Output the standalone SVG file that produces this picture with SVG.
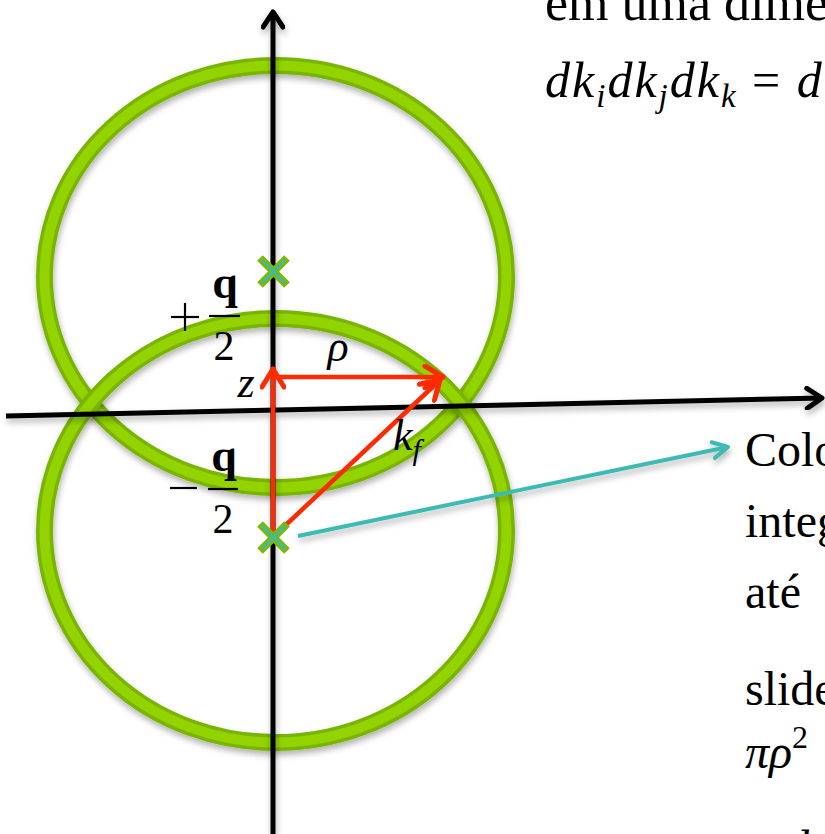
<svg xmlns="http://www.w3.org/2000/svg" width="825" height="834" viewBox="0 0 825 834">
<defs>
<filter id="sh" filterUnits="userSpaceOnUse" x="0" y="0" width="825" height="834">
<feDropShadow dx="1" dy="4" stdDeviation="3" flood-color="#000" flood-opacity="0.3"/>
</filter>
<marker id="blk" viewBox="0 0 24 24" refX="20" refY="12" markerWidth="24" markerHeight="24" markerUnits="userSpaceOnUse" orient="auto">
<path d="M5,2 L20,12 L5,22" fill="none" stroke="#000" stroke-width="5" stroke-linecap="round" stroke-linejoin="round"/>
</marker>
<marker id="red" viewBox="0 0 26 26" refX="23" refY="13" markerWidth="26" markerHeight="26" markerUnits="userSpaceOnUse" orient="auto">
<path d="M5,2 L23,13 L5,24" fill="none" stroke="#ff2a00" stroke-width="5" stroke-linecap="round" stroke-linejoin="round"/>
</marker>
<marker id="teal" viewBox="0 0 24 24" refX="21" refY="12" markerWidth="24" markerHeight="24" markerUnits="userSpaceOnUse" orient="auto">
<path d="M6,4 L21,12 L6,20" fill="none" stroke="#3cbab2" stroke-width="4" stroke-linecap="round" stroke-linejoin="round"/>
</marker>
</defs>
<style>
.ring1{fill:none;stroke:#78b400;stroke-width:17}
.ring2{fill:none;stroke:#92d300;stroke-width:10}
.axis{stroke:#000;stroke-width:5;fill:none}
.ra{stroke:#ff2a00;stroke-width:4.5;fill:none;stroke-linecap:round}
.ta{stroke:#3cbab2;stroke-width:4;fill:none}
.xg{stroke:#7fb800;stroke-width:8;stroke-linecap:butt}
.xt{stroke:#3cbab2;stroke-width:2.5}
.t{font-family:"Liberation Serif","DejaVu Serif",serif;fill:#000}
.m{font-family:"Liberation Serif","DejaVu Serif",serif;font-style:italic;fill:#000}
.b{font-family:"Liberation Serif","DejaVu Serif",serif;font-weight:bold;fill:#000}
</style>
<g id="circle-upper" filter="url(#sh)">
<ellipse class="ring1" cx="275.5" cy="276.5" rx="231" ry="211"/>
<ellipse class="ring2" cx="275.5" cy="276.5" rx="231" ry="211"/>
</g>
<g id="circle-lower" filter="url(#sh)">
<ellipse class="ring1" cx="275.5" cy="530.5" rx="231" ry="212"/>
<ellipse class="ring2" cx="275.5" cy="530.5" rx="231" ry="212"/>
</g>
<g id="connectors">
<g filter="url(#sh)">
<line class="axis" x1="273" y1="834" x2="273" y2="12" marker-end="url(#blk)"/>
<line class="axis" x1="6" y1="416" x2="822" y2="398" marker-end="url(#blk)"/>
</g>
<line class="ra" x1="273" y1="537" x2="273" y2="369" marker-end="url(#red)"/>
<line class="ra" x1="273" y1="377" x2="443" y2="377" marker-end="url(#red)"/>
<line class="ra" x1="273" y1="537" x2="440" y2="380" marker-end="url(#red)"/>
<g filter="url(#sh)">
<line class="ta" x1="298" y1="536" x2="728" y2="447" marker-end="url(#teal)"/>
</g>
</g>
<g id="cross-upper">
<line class="xg" x1="260" y1="258" x2="287" y2="285"/>
<line class="xg" x1="287" y1="258" x2="260" y2="285"/>
<line class="xt" x1="262" y1="260" x2="285" y2="283"/>
<line class="xt" x1="285" y1="260" x2="262" y2="283"/>
</g>
<g id="cross-lower">
<line class="xg" x1="260" y1="524" x2="287" y2="551"/>
<line class="xg" x1="287" y1="524" x2="260" y2="551"/>
<line class="xt" x1="262" y1="526" x2="285" y2="549"/>
<line class="xt" x1="285" y1="526" x2="262" y2="549"/>
</g>
<g id="label-plus-q2">
<line x1="171" y1="317" x2="199" y2="317" stroke="#000" stroke-width="2.2"/>
<line x1="185" y1="303" x2="185" y2="331" stroke="#000" stroke-width="2.2"/>
<text class="b" x="225" y="298" font-size="46" text-anchor="middle">q</text>
<line x1="209" y1="316" x2="240" y2="316" stroke="#000" stroke-width="2.2"/>
<text class="t" x="224" y="360" font-size="42" text-anchor="middle">2</text>
</g>
<g id="label-minus-q2">
<line x1="170" y1="488" x2="197" y2="488" stroke="#000" stroke-width="2.2"/>
<text class="b" x="224" y="471" font-size="46" text-anchor="middle">q</text>
<line x1="208" y1="489" x2="238" y2="489" stroke="#000" stroke-width="2.2"/>
<text class="t" x="223" y="533" font-size="42" text-anchor="middle">2</text>
</g>
<g id="label-rho"><text class="m" x="338" y="361" font-size="44" text-anchor="middle">ρ</text></g>
<g id="label-z"><text class="m" x="246" y="397" font-size="44" text-anchor="middle">z</text></g>
<g id="label-kf"><text class="m" x="393" y="450" font-size="44">k<tspan font-size="30" dy="10">f</tspan></text></g>
<g id="text-top">
<text class="t" x="545" y="20" font-size="52">em uma dime</text>
<text class="m" x="545" y="97" font-size="50" letter-spacing="2">dk<tspan font-size="33" dy="10">i</tspan><tspan dy="-10">dk</tspan><tspan font-size="33" dy="10">j</tspan><tspan dy="-10">dk</tspan><tspan font-size="33" dy="10">k</tspan><tspan dy="-10" font-style="normal"> = </tspan><tspan>d</tspan></text>
</g>
<g id="text-right">
<text class="t" x="745" y="466" font-size="48">Colo</text>
<text class="t" x="745" y="537" font-size="48">integ</text>
<text class="t" x="745" y="608" font-size="48">até</text>
<text class="t" x="745" y="705" font-size="48">slide</text>
<text class="m" x="745" y="768" font-size="48">πρ<tspan font-size="32" dy="-20" font-style="normal">2</tspan></text>
<text class="m" x="785" y="864" font-size="48">d</text>
</g>
</svg>
